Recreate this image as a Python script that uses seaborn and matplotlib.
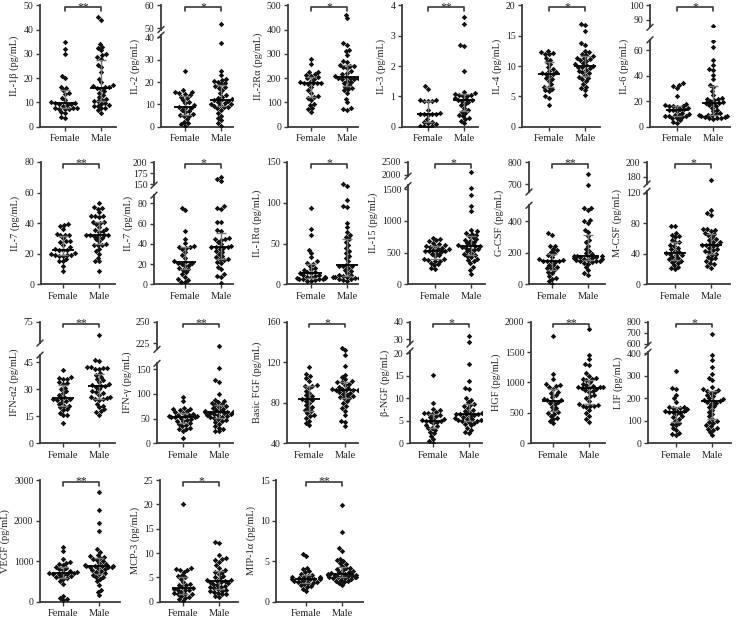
import warnings
warnings.filterwarnings("ignore")
import numpy as np
import pandas as pd
import matplotlib
matplotlib.use("Agg")
import matplotlib.pyplot as plt
import seaborn as sns
from matplotlib.lines import Line2D
import matplotlib.transforms as mtransforms

# ---------------- data (pg/mL) ----------------
groups = ["Female", "Male"]

il1b_female = [34.8, 32.0, 29.8, 20.9, 19.9, 16.4, 16.0, 15.0, 13.8, 13.6, 12.0, 11.0, 10.0, 9.8, 9.6,
               9.5, 9.2, 8.9, 8.6, 7.8, 7.6, 7.5, 7.4, 7.3, 7.2, 6.0, 5.5, 3.9, 3.6]
il1b_male = [45.2, 44.0, 34.2, 33.0, 32.5, 31.5, 29.8, 29.5, 28.8, 28.0, 25.5, 24.5, 22.5, 19.8, 18.5,
             17.0, 16.6, 16.3, 16.2, 16.0, 15.6, 14.5, 13.8, 13.0, 12.2, 11.6, 11.0, 10.6, 10.4, 9.8,
             9.4, 8.8, 8.6, 8.4, 7.8, 7.5, 6.8, 5.8]

il2_female = [25.0, 16.3, 15.5, 15.4, 15.0, 14.8, 14.0, 13.5, 12.8, 12.0, 11.0, 10.5, 9.5, 8.8, 8.5,
              8.3, 7.5, 7.0, 6.5, 5.5, 5.2, 5.0, 4.8, 3.5, 2.2, 1.5, 1.0, 0.5]
il2_male = [52.0, 37.5, 25.0, 23.0, 21.5, 20.8, 20.5, 20.2, 19.5, 19.0, 18.0, 17.6, 17.5, 16.5, 15.0,
            14.3, 13.5, 13.0, 12.2, 12.0, 11.8, 11.5, 11.0, 10.5, 10.2, 10.0, 9.6, 9.3, 9.0, 8.8,
            8.2, 7.5, 6.0, 5.0, 4.0, 2.8, 1.5, 0.5]

il2ra_female = [280, 257, 226, 224, 216, 214, 210, 205, 200, 198, 190, 185, 182, 180, 180, 178, 175,
                165, 150, 140, 125, 122, 120, 110, 95, 88, 75, 72, 60]
il2ra_male = [462, 447, 343, 335, 315, 310, 295, 272, 265, 255, 252, 250, 245, 240, 230, 222, 215, 210,
              205, 202, 200, 200, 198, 195, 190, 185, 180, 172, 165, 160, 155, 150, 140, 115, 100, 75,
              72, 68]

il3_female = [1.35, 1.25, 0.88, 0.87, 0.86, 0.85, 0.84, 0.55, 0.45, 0.43, 0.42, 0.42, 0.41, 0.40, 0.25,
              0.17, 0.15, 0.13, 0.08, 0.03, 0.02, 0.01, 0.0]
il3_male = [3.6, 3.37, 2.69, 2.67, 1.83, 1.15, 1.10, 1.08, 1.06, 1.05, 1.02, 1.00, 0.95, 0.90, 0.88,
            0.87, 0.85, 0.80, 0.75, 0.70, 0.62, 0.55, 0.50, 0.45, 0.38, 0.35, 0.30, 0.25, 0.20, 0.13]

il4_female = [12.5, 12.3, 12.2, 12.0, 11.9, 11.3, 11.0, 10.6, 10.3, 9.8, 9.5, 9.2, 9.0, 8.8, 8.7, 8.6,
              8.4, 8.0, 7.8, 7.5, 7.0, 6.6, 6.5, 6.2, 6.0, 5.8, 5.0, 4.8, 3.5]
il4_male = [17.0, 16.7, 15.8, 13.8, 13.5, 12.5, 12.3, 11.9, 11.8, 11.6, 11.4, 11.3, 11.2, 11.0, 10.8,
            10.5, 10.3, 10.1, 10.0, 9.9, 9.8, 9.6, 9.4, 9.2, 9.0, 8.8, 8.5, 8.2, 8.0, 7.8, 7.5, 7.0,
            6.6, 6.3, 6.0, 5.3]

il6_female = [34, 33, 32, 30.5, 24, 17.8, 17.0, 16.5, 16.2, 16.0, 15.5, 14.5, 14.0, 13.5, 13.0, 12.8,
              12.0, 11.0, 10.2, 9.5, 9.0, 8.5, 8.2, 8.0, 7.5, 7.0, 6.5, 5.0, 4.0, 3.0]
il6_male = [86, 67, 62.5, 52, 48, 45.5, 44, 40.5, 37, 33, 31, 28, 25, 22.5, 22, 21.5, 21, 20, 19.5,
            18.5, 18.3, 18, 17, 16, 15, 13, 12, 11, 10, 9.5, 9.2, 9.0, 8.6, 8.0, 7.5, 7.2, 7.0, 6.8,
            6.5, 6.0]

il7_female = [39.5, 38.5, 38.0, 36.0, 32.8, 32.5, 32.2, 32.0, 30.0, 28.5, 28.0, 27.8, 26.0, 24.5, 23.0,
              22.5, 22.5, 22.2, 20.5, 20.0, 19.2, 19.0, 19.0, 18.8, 18.5, 16.5, 15.2, 15.0, 12.0, 8.5]
il7_male = [53.5, 50.5, 50.0, 49.5, 47.0, 45.0, 44.5, 44.5, 44.0, 41.0, 40.5, 40.0, 39.5, 37.5, 36.5,
            35.5, 35.0, 32.3, 34.5, 32.5, 32.2, 32.0, 31.8, 31.5, 30.0, 29.5, 28.0, 26.5, 26.0, 25.8,
            25.5, 23.0, 21.5, 20.0, 17.5, 15.5, 15.0, 9.0]

il7b_female = [75, 73, 53, 45, 41, 37.5, 37, 36.5, 36, 35, 32, 29, 26, 23, 22, 21.5, 21, 20, 19.5, 18,
               16, 15, 14.5, 12, 10, 7, 5, 4, 2.5, 2]
il7b_male = [167, 161, 158, 77, 75.5, 74, 62, 61.5, 54, 53, 45.5, 45, 44.5, 44, 42, 40, 38, 37, 36.8,
             36.5, 36.2, 35, 33, 32, 30, 28, 27, 25, 24.5, 24, 22, 21, 17, 15, 10, 8, 7.5, 1]

il1ra_female = [94, 68, 60, 42, 38, 33, 28, 26.5, 25, 23, 20, 18.5, 17, 15, 14.5, 14, 13.5, 12, 11, 10,
                9.5, 9, 8.5, 8, 7.5, 7, 7, 6.5, 6, 5, 4.5, 3.5]
il1ra_male = [122.5, 121, 103, 96, 95, 75, 70, 64, 60, 58, 55, 52, 48, 44, 41, 38, 35, 32, 28, 24, 23,
              22.5, 22, 20, 18, 16, 14, 12, 11, 10, 9.5, 9, 9, 8.5, 8, 7.5, 7, 6, 5, 4]

il15_female = [735, 720, 700, 680, 655, 630, 615, 605, 600, 590, 575, 560, 555, 540, 530, 525, 520, 510,
               500, 480, 460, 440, 400, 395, 385, 375, 360, 340, 320, 300, 260, 240]
il15_male = [2100, 1520, 1410, 1230, 1160, 860, 835, 810, 800, 780, 760, 740, 720, 700, 690, 670, 650,
             630, 615, 605, 600, 595, 580, 565, 550, 540, 520, 500, 480, 460, 445, 430, 400, 380, 360,
             330, 280, 230, 170]

gcsf_female = [325, 315, 245, 240, 225, 215, 205, 195, 185, 175, 160, 152, 150, 148, 146, 145, 140, 125,
               120, 110, 105, 100, 90, 80, 70, 50, 40, 35, 20, 5]
gcsf_male = [745, 697, 485, 480, 470, 410, 400, 390, 345, 330, 305, 280, 265, 245, 225, 210, 200, 190,
             182, 180, 178, 176, 172, 170, 168, 165, 162, 160, 155, 152, 150, 148, 145, 140, 135, 130,
             110, 90, 70, 58]

mcsf_female = [77, 77, 67, 65, 63, 62, 58, 56, 55, 52, 50, 48, 46, 44, 42, 41, 40, 39, 38, 36, 35, 33,
               32, 30, 29, 28, 25, 23, 21, 20]
mcsf_male = [176, 98, 93, 91, 73, 72, 71, 70, 67, 66, 64, 62, 60, 58, 56, 55, 53, 52, 52, 51, 50, 48,
             46, 45, 43, 42, 40, 38, 36, 34, 33, 30, 28, 26, 24, 22]

ifna2_female = [40.5, 37.0, 36.5, 36.0, 35.5, 34.0, 33.5, 33.0, 31.0, 30.0, 29.0, 28.0, 27.0, 26.0,
                25.0, 24.8, 24.5, 24.0, 23.5, 23.0, 22.0, 21.0, 21.0, 20.0, 19.0, 18.5, 17.0, 16.0,
                15.5, 11.0]
ifna2_male = [62, 46.5, 45.5, 42.5, 42.2, 42.0, 41.8, 41.5, 41.2, 39.0, 38.0, 37.0, 36.0, 35.0, 34.0,
              33.0, 32.5, 32.0, 31.8, 31.5, 30.0, 29.0, 28.5, 28.0, 27.0, 26.0, 25.5, 25.0, 24.8,
              24.5, 24.0, 22.0, 21.0, 20.0, 19.0, 18.0, 17.5, 16.0]

ifng_female = [93, 85, 72, 70, 69, 68, 65, 63, 62, 60, 58, 57, 56, 55, 55, 54, 53, 53, 52, 50, 48, 46,
               45, 42, 40, 38, 35, 32, 30, 28, 24, 10]
ifng_male = [222, 152, 128, 125, 100, 88, 86, 84, 82, 80, 78, 76, 74, 72, 70, 68, 66, 65, 64, 63, 63,
             62, 61, 60, 59, 58, 57, 55, 54, 53, 52, 50, 48, 46, 44, 40, 36, 32, 28, 25, 24]

fgf_female = [115, 108, 106, 104, 101, 97.5, 97, 96.5, 95, 92, 90, 88, 87, 85, 84, 83, 82, 80, 78, 76,
              75, 73, 72, 70, 68, 67, 65, 62, 60, 58]
fgf_male = [134, 132, 127, 116, 107, 105, 103, 101, 100.5, 100, 99, 98, 96, 95, 94, 93.5, 93, 93, 92.5,
            92, 91, 90, 89, 88, 87, 86, 85, 85, 82, 80, 77, 75, 72, 68, 62, 61, 57]

bngf_female = [15.2, 9.0, 7.7, 7.3, 7.0, 6.8, 6.7, 6.5, 6.2, 6.0, 5.8, 5.5, 5.3, 5.1, 5.0, 5.0, 4.9,
               4.7, 4.4, 4.0, 3.8, 3.5, 3.3, 3.0, 2.6, 2.2, 1.7, 1.0, 0.5, 0.1]
bngf_male = [32.1, 28.3, 17.6, 13.8, 12.3, 12.1, 10.0, 9.7, 9.2, 8.8, 8.5, 8.2, 7.8, 7.5, 7.2, 7.0, 6.8,
             6.6, 6.5, 6.5, 6.4, 6.2, 6.0, 5.8, 5.6, 5.5, 5.3, 5.2, 5.1, 5.0, 4.9, 4.8, 4.5, 4.2, 4.0,
             3.5, 3.0, 2.6, 2.2]

hgf_female = [1770, 1140, 1050, 970, 960, 950, 930, 900, 840, 820, 790, 760, 730, 720, 705, 700, 680,
              660, 640, 600, 580, 540, 520, 500, 480, 450, 410, 400, 370, 330]
hgf_male = [1880, 1450, 1380, 1300, 1280, 1150, 1110, 1080, 1060, 1050, 1040, 1000, 980, 960, 940, 930,
            925, 920, 915, 910, 900, 880, 860, 840, 800, 780, 750, 700, 650, 630, 620, 615, 610, 600,
            550, 500, 450, 400, 350]

lif_female = [323, 245, 240, 215, 200, 185, 162, 160, 158, 155, 152, 148, 145, 142, 141, 140, 135, 130,
              120, 115, 110, 100, 92, 88, 80, 70, 60, 45, 40, 35]
lif_male = [694, 393, 370, 340, 310, 290, 280, 250, 240, 235, 232, 228, 225, 215, 210, 200, 195, 192,
            190, 188, 185, 180, 175, 165, 160, 150, 140, 130, 120, 110, 100, 95, 90, 80, 75, 70, 65,
            60, 50, 35]

vegf_female = [1360, 1250, 1050, 980, 960, 940, 900, 860, 830, 800, 780, 750, 720, 710, 700, 695, 690,
               680, 660, 640, 620, 600, 580, 560, 500, 430, 150, 100, 70, 40]
vegf_male = [2700, 2260, 1930, 1740, 1300, 1230, 1150, 1120, 1100, 1080, 1060, 1040, 1000, 960, 920,
             900, 890, 880, 875, 870, 865, 860, 850, 830, 810, 790, 760, 740, 700, 680, 650, 620, 600,
             560, 500, 420, 300, 250, 160]

mcp3_female = [20.0, 6.9, 6.7, 6.6, 6.5, 6.2, 5.5, 5.2, 5.0, 4.7, 4.0, 3.7, 3.5, 3.4, 3.0, 2.8, 2.7,
               2.5, 2.5, 2.4, 2.0, 1.8, 1.6, 1.5, 1.5, 1.2, 1.0, 0.8, 0.5, 0.1]
mcp3_male = [12.3, 12.1, 9.5, 9.0, 8.8, 8.6, 8.2, 7.5, 7.0, 6.5, 6.2, 6.0, 5.6, 5.3, 5.0, 4.8, 4.5, 4.4,
             4.3, 4.2, 4.1, 4.0, 3.8, 3.6, 3.5, 3.3, 3.1, 3.0, 2.8, 2.6, 2.5, 2.3, 2.2, 2.0, 1.8, 1.6,
             1.5, 1.2, 1.0]

mip1a_female = [5.9, 5.6, 4.2, 4.0, 3.8, 3.6, 3.4, 3.3, 3.2, 3.1, 3.0, 3.0, 2.95, 2.9, 2.85, 2.8, 2.8,
                2.75, 2.7, 2.6, 2.5, 2.45, 2.4, 2.3, 2.25, 2.2, 2.0, 1.9, 1.8, 1.6, 1.3]
mip1a_male = [11.9, 8.55, 6.6, 6.3, 5.3, 5.1, 5.0, 4.8, 4.6, 4.4, 4.2, 4.1, 4.0, 3.9, 3.8, 3.7, 3.6,
              3.5, 3.45, 3.4, 3.35, 3.3, 3.3, 3.25, 3.2, 3.15, 3.1, 3.05, 3.0, 3.0, 2.95, 2.9, 2.8,
              2.7, 2.6, 2.5, 2.4, 2.3, 2.0]

labels = ["IL-1β (pg/mL)", "IL-2 (pg/mL)", "IL-2Rα (pg/mL)", "IL-3 (pg/mL)", "IL-4 (pg/mL)",
          "IL-6 (pg/mL)", "IL-7 (pg/mL)", "IL-7 (pg/mL)", "IL-1Rα (pg/mL)", "IL-15 (pg/mL)",
          "G-CSF (pg/mL)", "M-CSF (pg/mL)", "IFN-α2 (pg/mL)", "IFN-γ (pg/mL)", "Basic FGF (pg/mL)",
          "β-NGF (pg/mL)", "HGF (pg/mL)", "LIF (pg/mL)", "VEGF (pg/mL)", "MCP-3 (pg/mL)",
          "MIP-1α (pg/mL)"]
stars = ["**", "*", "*", "**", "*", "*", "**", "*", "*", "*", "**", "*",
         "**", "**", "*", "*", "**", "*", "**", "*", "**"]
series = [(il1b_female, il1b_male), (il2_female, il2_male), (il2ra_female, il2ra_male),
          (il3_female, il3_male), (il4_female, il4_male), (il6_female, il6_male),
          (il7_female, il7_male), (il7b_female, il7b_male), (il1ra_female, il1ra_male),
          (il15_female, il15_male), (gcsf_female, gcsf_male), (mcsf_female, mcsf_male),
          (ifna2_female, ifna2_male), (ifng_female, ifng_male), (fgf_female, fgf_male),
          (bngf_female, bngf_male), (hgf_female, hgf_male), (lif_female, lif_male),
          (vegf_female, vegf_male), (mcp3_female, mcp3_male), (mip1a_female, mip1a_male)]

# ---------------- layout (pixels) ----------------
W, H = 738, 620
rows_px = [(5.3, 126.7), (162.0, 284.3), (321.7, 443.3), (480.0, 601.7)]
# (row, spine x, female x, axis end x)
geom = [(0, 40, 65, 116), (0, 161, 185, 233), (0, 288, 311, 358), (0, 402, 428, 478),
        (0, 522, 549, 600), (0, 650, 677, 730),
        (1, 41, 63, 115), (1, 154, 185, 233), (1, 287, 311, 358), (1, 408, 435, 485),
        (1, 529, 552, 605), (1, 647, 675, 730),
        (2, 40, 63, 115), (2, 157, 183, 233), (2, 287, 309, 358), (2, 410, 433, 482),
        (2, 531, 553, 605), (2, 648, 676, 731),
        (3, 40, 63, 120), (3, 160, 183, 238), (3, 276, 306, 363)]
# single axes: (lim, ticks); broken: dict(upper lim/ticks/bottom px, lower lim/ticks/top px)
scales = [
    ((0, 50), [0, 10, 20, 30, 40, 50]),
    dict(ul=(49.5, 60), ut=[50, 60], ub=29.5, ll=(0, 41), lt=[0, 10, 20, 30, 40], ltop=35.1),
    ((0, 500), [0, 100, 200, 300, 400, 500]),
    ((0, 4), [0, 1, 2, 3, 4]),
    ((0, 20), [0, 5, 10, 15, 20]),
    dict(ul=(85, 100), ut=[90, 100], ub=27.3, ll=(0, 68), lt=[0, 20, 40, 60], ltop=39.8),
    ((0, 80), [0, 20, 40, 60, 80]),
    dict(ul=(148, 200), ut=[150, 175, 200], ub=185.2, ll=(0, 88), lt=[0, 20, 40, 60, 80], ltop=195.2),
    ((0, 150), [0, 50, 100, 150]),
    dict(ul=(1950, 2500), ut=[2000, 2500], ub=176.1, ll=(0, 1560), lt=[0, 500, 1000, 1500], ltop=185.5),
    dict(ul=(665, 800), ut=[700, 800], ub=192.0, ll=(0, 500), lt=[0, 200, 400], ltop=205.3),
    dict(ul=(170, 200), ut=[180, 200], ub=183.9, ll=(0, 122), lt=[0, 40, 80, 120], ltop=191.2),
    dict(ul=(54, 75), ut=[75], ub=343.0, ll=(0, 49), lt=[0, 15, 30, 45], ltop=355.1),
    dict(ul=(218, 250), ut=[225, 250], ub=349.4, ll=(0, 162), lt=[0, 50, 100, 150], ltop=363.4),
    ((40, 160), [40, 80, 120, 160]),
    dict(ul=(27.3, 40), ut=[30, 40], ub=344.1, ll=(0, 20.5), lt=[0, 5, 10, 15, 20], ltop=351.0),
    ((0, 2000), [0, 500, 1000, 1500, 2000]),
    dict(ul=(590, 800), ut=[600, 700, 800], ub=345.1, ll=(0, 405), lt=[0, 100, 200, 300, 400], ltop=352.2),
    ((0, 3000), [0, 1000, 2000, 3000]),
    ((0, 25), [0, 5, 10, 15, 20, 25]),
    ((0, 15), [0, 5, 10, 15]),
]

# ---------------- style ----------------
sns.set_style("ticks")
plt.rcParams["font.family"] = ["Liberation Serif", "DejaVu Serif"]
plt.rcParams["font.size"] = 7
AX = "#3a3a3a"
EB = "#7a7a7a"
UNIT = 36.0  # px between Female and Male

fig = plt.figure(figsize=(W / 100, H / 100), dpi=100)


def add_axes(l, r, t, b):
    return fig.add_axes([l / W, 1 - b / H, (r - l) / W, (b - t) / H])


def style(ax, lim, ticks, xlim, bottom=True):
    ax.set_facecolor("none")
    ax.set_xlim(*xlim)
    ax.set_ylim(*lim)
    ax.set_yticks(ticks)
    ax.set_yticklabels([str(t) for t in ticks])
    ax.spines["top"].set_visible(False)
    ax.spines["right"].set_visible(False)
    for s in ("left", "bottom"):
        ax.spines[s].set_linewidth(1.3)
        ax.spines[s].set_color(AX)
    if bottom:
        ax.set_xticks([0, 1])
        ax.set_xticklabels(groups, fontsize=7.5)
    else:
        ax.spines["bottom"].set_visible(False)
        ax.set_xticks([])
    ax.tick_params(length=3.2, width=1.0, color=AX, labelsize=7, pad=1.5, labelcolor="#222")
    ax.tick_params(axis="x", labelsize=7.5, pad=2)
    ax.set_xlabel("")
    ax.set_ylabel("")


def draw(ax, f, m, lo=-np.inf, hi=np.inf):
    df = pd.DataFrame({"sex": ["Female"] * len(f) + ["Male"] * len(m),
                       "value": list(f) + list(m)})
    df = df[(df.value >= lo) & (df.value <= hi)]
    if len(df):
        sns.swarmplot(data=df, x="sex", y="value", order=groups, color="#111111", marker="D",
                      size=2.8, linewidth=0, ax=ax, zorder=3)
    for i, vals in enumerate((f, m)):
        q1, med, q3 = np.percentile(vals, [25, 50, 75])
        ax.vlines(i, q1, q3, color=EB, lw=1.0, zorder=4)
        ax.hlines([q1, q3], i - 0.15, i + 0.15, color=EB, lw=1.0, zorder=4)
        ax.hlines(med, i - 0.3, i + 0.3, color="black", lw=1.3, zorder=5)


def bracket(ax, h_px, text):
    tr = mtransforms.blended_transform_factory(ax.transData, ax.transAxes)
    yb = 1 - 2.2 / h_px
    yt = 1 - 5.6 / h_px
    ax.plot([0, 0, 1, 1], [yt, yb, yb, yt], color=AX, lw=1.2, transform=tr, clip_on=False, zorder=6)
    ax.text(0.5, yb - 2.6 / h_px, text, transform=tr, ha="center", va="baseline", fontsize=8.5,
            color="#222", clip_on=False)


def slash(x, y):
    d = 3.0
    fig.add_artist(Line2D([(x - d) / W, (x + d) / W], [1 - (y + d) / H, 1 - (y - d) / H],
                          color=AX, lw=1.1))


for k in range(21):
    row, sx, fx, ex = geom[k]
    top, bot = rows_px[row]
    xlim = ((sx - fx) / UNIT, (ex - fx) / UNIT)
    f, m = series[k]
    sc = scales[k]
    if isinstance(sc, tuple):
        ax = add_axes(sx, ex, top, bot)
        draw(ax, f, m)
        style(ax, sc[0], sc[1], xlim)
        ax.set_ylabel(labels[k], fontsize=7.5, labelpad=3)
        bracket(ax, bot - top, stars[k])
    else:
        axu = add_axes(sx, ex, top, sc["ub"])
        axl = add_axes(sx, ex, sc["ltop"], bot)
        draw(axu, f, m, lo=sc["ul"][0])
        draw(axl, f, m, hi=sc["ll"][1])
        style(axu, sc["ul"], sc["ut"], xlim, bottom=False)
        style(axl, sc["ll"], sc["lt"], xlim)
        axl.set_ylabel(labels[k], fontsize=7.5, labelpad=3)
        center = (top + bot) / 2
        axl.yaxis.label.set_y((bot - center) / (bot - sc["ltop"]))
        bracket(axu, sc["ub"] - top, stars[k])
        slash(sx, sc["ub"])
        slash(sx, sc["ltop"])

fig.savefig("out.png", dpi=100)
